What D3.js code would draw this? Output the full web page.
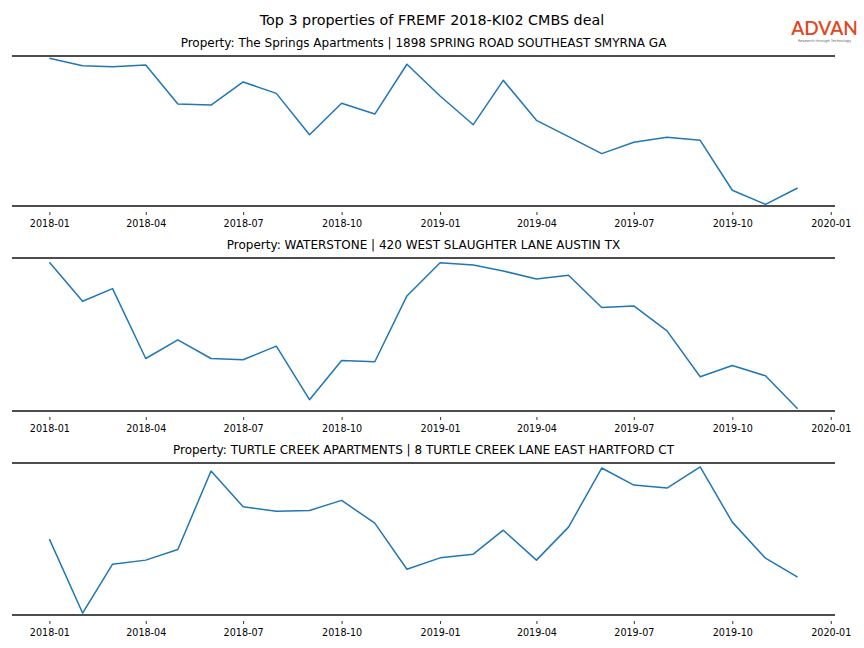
<!DOCTYPE html>
<html>
<head>
<meta charset="utf-8">
<script src="https://cdn.jsdelivr.net/npm/d3@7"></script>
<style>
  html, body { margin: 0; padding: 0; background: #fff; }
  svg { display: block; font-family: "DejaVu Sans", sans-serif; }
</style>
</head>
<body>
<svg id="chart" width="864" height="648"></svg>
<script>
// ---- Data (relative units 0-100 of each panel's height) ----
const chartTitle = "Top 3 properties of FREMF 2018-KI02 CMBS deal";
const months = ["2018-01","2018-02","2018-03","2018-04","2018-05","2018-06","2018-07","2018-08","2018-09","2018-10","2018-11","2018-12",
                "2019-01","2019-02","2019-03","2019-04","2019-05","2019-06","2019-07","2019-08","2019-09","2019-10","2019-11","2019-12"];
const propertyTitles = [
  "Property: The Springs Apartments | 1898 SPRING ROAD SOUTHEAST SMYRNA GA",
  "Property: WATERSTONE | 420 WEST SLAUGHTER LANE AUSTIN TX",
  "Property: TURTLE CREEK APARTMENTS | 8 TURTLE CREEK LANE EAST HARTFORD CT"
];
const springsValues = [98.5, 93.5, 92.9, 94.0, 68.0, 67.3, 82.7, 75.1, 47.5, 68.5, 61.3, 94.5,
                       73.3, 54.2, 83.8, 57.1, 46.2, 34.9, 42.5, 45.8, 43.8, 10.5, 1.1, 12.0];
const waterstoneValues = [97.2, 71.7, 80.0, 34.3, 46.5, 34.3, 33.5, 42.4, 7.4, 33.0, 32.2, 75.2,
                          96.9, 95.4, 91.5, 86.3, 88.7, 67.6, 68.7, 52.4, 22.4, 29.7, 23.0, 1.5];
const turtleCreekValues = [49.9, 1.3, 33.4, 36.1, 43.1, 94.7, 71.2, 68.2, 68.8, 75.4, 60.4, 30.1,
                           37.6, 40.0, 55.8, 36.1, 57.8, 96.7, 85.5, 83.5, 97.4, 61.1, 37.4, 24.9];
const tickLabels = ["2018-01","2018-04","2018-07","2018-10","2019-01","2019-04","2019-07","2019-10","2020-01"];

// ---- Layout ----
const svg = d3.select("#chart");
const left = 12, right = 835;
const panels = [
  {top: 56, bottom: 206, values: springsValues, title: propertyTitles[0]},
  {top: 258, bottom: 411, values: waterstoneValues, title: propertyTitles[1]},
  {top: 463, bottom: 615, values: turtleCreekValues, title: propertyTitles[2]}
];

const parse = d3.timeParse("%Y-%m");
const dates = months.map(parse);
const span = dates[dates.length - 1] - dates[0];
const pad = span * 0.05;
const x = d3.scaleTime()
  .domain([new Date(+dates[0] - pad), new Date(+dates[dates.length - 1] + pad)])
  .range([left, right]);
const tickDates = tickLabels.map(parse);

// Main title
svg.append("text")
  .attr("x", 432).attr("y", 24.5)
  .attr("text-anchor", "middle")
  .attr("font-size", 14.3)
  .attr("fill", "#000")
  .text(chartTitle);

// Logo
svg.append("text")
  .attr("x", 824.5).attr("y", 34.5)
  .attr("text-anchor", "middle")
  .attr("font-family", "Lato, sans-serif")
  .attr("font-weight", 600)
  .attr("font-size", 19)
  .attr("fill", "#e2461e")
  .text("ADVAN");
svg.append("text")
  .attr("x", 824.5).attr("y", 42)
  .attr("text-anchor", "middle")
  .attr("font-size", 3.6)
  .attr("fill", "#666")
  .text("Research through Technology");

panels.forEach(p => {
  const y = d3.scaleLinear().domain([0, 100]).range([p.bottom, p.top]);
  const g = svg.append("g");

  // subplot title
  g.append("text")
    .attr("x", (left + right) / 2).attr("y", p.top - 9.5)
    .attr("text-anchor", "middle")
    .attr("font-size", 12)
    .attr("fill", "#000")
    .text(p.title);

  // line
  const line = d3.line()
    .x((d, i) => x(dates[i]))
    .y(d => y(d));
  g.append("path")
    .datum(p.values)
    .attr("fill", "none")
    .attr("stroke", "#1f77b4")
    .attr("stroke-width", 1.5)
    .attr("stroke-linejoin", "round")
    .attr("d", line);

  // spines top & bottom
  [p.top, p.bottom].forEach(yy => {
    g.append("line")
      .attr("x1", left).attr("x2", right)
      .attr("y1", yy).attr("y2", yy)
      .attr("stroke", "#4d4d4d")
      .attr("stroke-width", 2);
  });

  // x axis
  const axis = d3.axisBottom(x)
    .tickValues(tickDates)
    .tickFormat(d3.timeFormat("%Y-%m"))
    .tickSize(3)
    .tickPadding(5.5);
  const ag = g.append("g")
    .attr("transform", `translate(0,${p.bottom + 6})`)
    .call(axis);
  ag.select(".domain").remove();
  ag.selectAll(".tick line").attr("stroke", "#000").attr("stroke-width", 0.8);
  ag.selectAll(".tick text")
    .attr("font-family", "DejaVu Sans, sans-serif")
    .attr("font-size", 9.6)
    .attr("fill", "#000");
});
</script>
</body>
</html>
